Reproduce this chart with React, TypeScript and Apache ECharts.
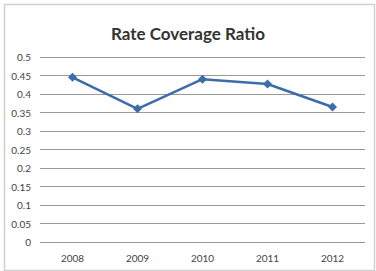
import React, { useEffect, useRef } from "react";
import * as echarts from "echarts";

const categories = ["2008", "2009", "2010", "2011", "2012"];
const values = [0.445, 0.36, 0.44, 0.427, 0.365];
const title = "Rate Coverage Ratio";

export default function App() {
  const ref = useRef<HTMLDivElement>(null);
  useEffect(() => {
    if (!ref.current) return;
    const chart = echarts.init(ref.current, undefined, { renderer: "svg" });
    chart.setOption({
      animation: false,
      backgroundColor: "#ffffff",
      title: {
        text: title,
        left: "center",
        top: 20,
        textStyle: { fontFamily: "Lato", fontWeight: "bold", fontSize: 17, color: "#333333" },
      },
      graphic: [
        {
          type: "rect",
          shape: { x: 4.5, y: 4.5, width: 370, height: 266 },
          style: { fill: "none", stroke: "#d0d0d0", lineWidth: 1.5 },
          silent: true,
        },
      ],
      grid: { left: 40, right: 11, top: 57, bottom: 29, containLabel: false },
      xAxis: {
        type: "category",
        data: categories,
        boundaryGap: true,
        axisLine: { show: false },
        axisTick: { show: false },
        axisLabel: { margin: 11, fontSize: 10, color: "#444444", fontFamily: "Lato" },
      },
      yAxis: {
        type: "value",
        min: 0,
        max: 0.5,
        interval: 0.05,
        axisLine: { show: false },
        axisTick: { show: false },
        axisLabel: {
          margin: 9,
          fontSize: 10,
          color: "#444444",
          fontFamily: "Lato",
          formatter: (v: number) => String(Math.round(v * 100) / 100),
        },
        splitLine: { lineStyle: { color: "#9a9a9a", width: 1 } },
      },
      series: [
        {
          type: "line",
          data: values,
          symbol: "diamond",
          symbolSize: 9,
          lineStyle: { color: "#3d6cab", width: 2.5 },
          itemStyle: { color: "#3d6cab" },
        },
      ],
    });
    return () => chart.dispose();
  }, []);
  return (
    <div
      ref={ref}
      style={{ position: "fixed", left: 0, top: 0, width: 376, height: 271 }}
    />
  );
}
